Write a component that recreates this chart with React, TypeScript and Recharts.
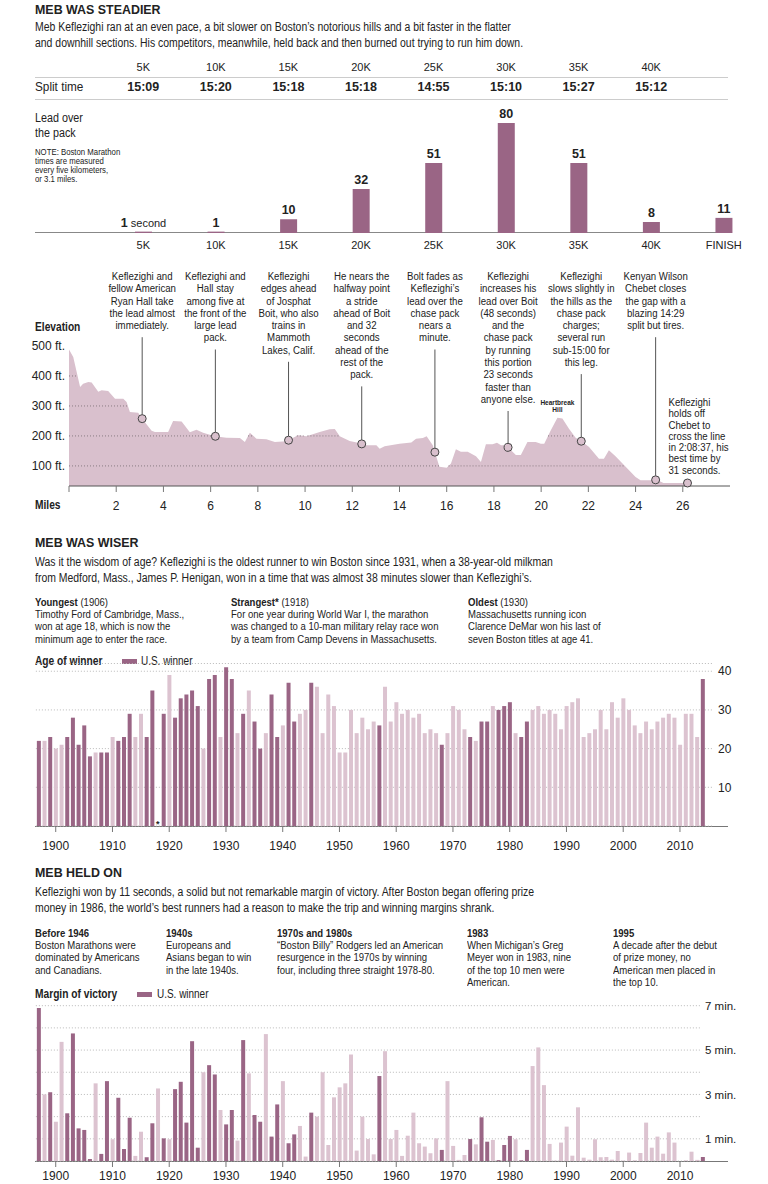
import React from 'react'
import {
  Area,
  Bar,
  BarChart,
  CartesianGrid,
  Cell,
  ComposedChart,
  LabelList,
  ReferenceDot,
  ReferenceLine,
  XAxis,
  YAxis,
} from 'recharts'

const FONT = '"Liberation Sans", Arial, sans-serif'
const INK = '#222'
const DARK = '#9a6585'
const LIGHT = '#dcc3d0'
const AREA = '#d9c0cd'
const GRID = '#b9b9b9'
// the original uses a condensed face; squeeze Liberation Sans to match
const SQUEEZE = 0.83
const SQUEEZE_BOLD = 0.85
const SQUEEZE_NOTE = 0.84
const SQUEEZE_INTRO = 0.87

// --- splits / lead over the pack ---
const splitLabels = ['5K', '10K', '15K', '20K', '25K', '30K', '35K', '40K', 'FINISH']
const splitTimes = ['15:09', '15:20', '15:18', '15:18', '14:55', '15:10', '15:27', '15:12', '']
const leadSeconds = [1, 1, 10, 32, 51, 80, 51, 8, 11]

// --- elevation profile (miles, feet) ---
const profileMiles = [
  0, 0.18, 0.47, 0.6, 0.82, 0.96, 1.24, 1.38, 1.66, 1.95, 2.3, 2.44, 2.58, 2.93, 3.15, 3.5, 3.64, 4.2, 4.41, 4.77,
  5.12, 5.4, 5.68, 6.18, 6.67, 7.24, 7.45, 7.66, 7.94, 8.36, 8.72, 9.21, 9.7, 10.06, 10.62, 11.04, 11.26, 11.47,
  11.89, 12.24, 12.6, 13.02, 13.16, 13.37, 14.0, 14.5, 14.7, 14.99, 15.15, 15.41, 15.69, 16.0, 16.18, 16.39, 16.6,
  16.89, 17.24, 17.45, 17.66, 17.94, 18.13, 18.3, 18.51, 18.93, 19.14, 19.42, 19.77, 19.99, 20.13, 20.41, 20.69,
  20.9, 21.18, 21.46, 21.75, 22.03, 22.45, 22.66, 22.87, 23.15, 23.58, 24.0, 24.21, 24.7, 24.9, 25.18, 25.97, 26.2,
]
const profileFeet = [
  488, 463, 363, 374, 380, 378, 347, 352, 350, 324, 324, 313, 280, 277, 252, 217, 213, 213, 250, 248,
  212, 221, 211, 199, 194, 193, 180, 211, 191, 189, 180, 182, 202, 199, 213, 222, 223, 199,
  183, 177, 169, 169, 157, 166, 174, 178, 191, 193, 199, 169, 97, 94, 108, 156, 147,
  147, 132, 113, 172, 172, 177, 169, 169, 136, 136, 180, 180, 174, 174, 219, 261,
  258, 224, 194, 180, 163, 124, 124, 152, 132, 97, 63, 52, 52, 54, 43, 43, 43,
]
const splitMiles = [3.1, 6.2, 9.3, 12.4, 15.5, 18.6, 21.7, 24.85, 26.2]
const elevationTicks = [100, 200, 300, 400, 500]
const mileTicks = [0, 2, 4, 6, 8, 10, 12, 14, 16, 18, 20, 22, 24, 26]

const splitNotes = [
  ['Keflezighi and', 'fellow American', 'Ryan Hall take', 'the lead almost', 'immediately.'],
  ['Keflezighi and', 'Hall stay', 'among five at', 'the front of the', 'large lead', 'pack.'],
  ['Keflezighi', 'edges ahead', 'of Josphat', 'Boit, who also', 'trains in', 'Mammoth', 'Lakes, Calif.'],
  ['He nears the', 'halfway point', 'a stride', 'ahead of Boit', 'and 32', 'seconds', 'ahead of the', 'rest of the', 'pack.'],
  ['Bolt fades as', 'Keflezighi\u2019s', 'lead over the', 'chase pack', 'nears a', 'minute.'],
  ['Keflezighi', 'increases his', 'lead over Boit', '(48 seconds)', 'and the', 'chase pack', 'by running', 'this portion', '23 seconds', 'faster than', 'anyone else.'],
  ['Keflezighi', 'slows slightly in', 'the hills as the', 'chase pack', 'charges;', 'several run', 'sub-15:00 for', 'this leg.'],
  ['Kenyan Wilson', 'Chebet closes', 'the gap with a', 'blazing 14:29', 'split but tires.'],
  ['Keflezighi', 'holds off', 'Chebet to', 'cross the line', 'in 2:08:37, his', 'best time by', '31 seconds.'],
]

// --- winners by year, 1897-2014 ---
const firstYear = 1897
const ages = [
  22, 22, 23,
  20, 21, 23, 28, 21, 26, 18, 19, 19, 19,
  23, 22, 23, 29, 23, 29, 23, 35, null, 29,
  39, 28, 33, 34, 35, 31, 20, 38, 39, 23,
  41, 38, 24, 29, 35, 27, 20, 24, 34, 23,
  26, 37, 27, 29, 30, 37, 36, 24, 34, 31,
  19, 19, 30, 24, 28, 25, 27, 26, 36, 27,
  32, 29, 30, 28, 29, 24, 25, 24, 21, 24,
  31, 30, 25, 23, 22, 27, 27, 31, 30, 31,
  32, 24, 23, 27, 30, 31, 29, 30, 29, 25,
  31, 32, 33, 23, 24, 25, 30, 25, 32, 28,
  33, 30, 26, 24, 27, 25, 27, 28, 29, 28,
  21, 29, 29, 23, 38,
]
// margin of victory, minutes
const margins = [
  6.9, 3.0, 3.1,
  1.77, 5.37, 2.15, 5.75, 1.47, 1.4, 0.09, 3.5, 0.32, 3.6,
  0.98, 2.85, 0.54, 1.95, 0.23, 1.32, 0.17, 1.7, 3.27, 1.02,
  0.98, 3.24, 3.57, 1.73, 5.4, 0.6, 4.0, 4.32, 3.9, 2.3,
  1.65, 2.3, 0.92, 5.45, 3.95, 2.07, 1.77, 5.72, 1.1, 2.55,
  3.6, 0.8, 1.2, 1.58, 0.2, 2.18, 2.0, 4.0, 0.72, 2.87,
  3.32, 3.5, 4.8, 0.47, 2.0, 0.99, 0.3, 3.83, 4.95, 0.99,
  1.4, 0.23, 1.14, 2.18, 0.8, 0.65, 0.35, 1.02, 0.5, 3.6,
  0.68, 0.05, 0.27, 0.99, 0.75, 1.97, 0.87, 0.95, 0.04, 0.72,
  1.13, 0.98, 0.03, 0.5, 4.28, 5.12, 3.42, 0.77, 0.02, 0.83,
  1.55, 0.24, 2.42, 0.15, 0.06, 0.98, 0.17, 0.18, 0.06, 0.45,
  0.02, 0.38, 0.03, 0.36, 1.73, 0.6, 1.1, 0.33, 1.29, 0.83,
  0, 0.03, 0.42, 0.05, 0.18,
]
const usWinnerYears = [
  1897, 1899, 1902, 1903, 1904, 1905, 1906, 1908, 1909, 1911, 1912, 1913, 1916, 1917, 1919, 1921, 1922, 1923,
  1924, 1925, 1927, 1928, 1930, 1931, 1933, 1935, 1936, 1938, 1939, 1941, 1942, 1945, 1957, 1968, 1973, 1975,
  1976, 1978, 1979, 1980, 1982, 1983, 2014,
]
const decadeTicks = [1900, 1910, 1920, 1930, 1940, 1950, 1960, 1970, 1980, 1990, 2000, 2010]
const ageTicks = [10, 20, 30, 40]
const minuteTicks = [1, 2, 3, 4, 5, 6, 7]
const strangestYear = 1918

// --- derived tables ---
const leadData = splitLabels.map((name, i) => ({ name, split: splitTimes[i], lead: leadSeconds[i] }))
const profile = profileMiles.map((mile, i) => ({ mile, ft: profileFeet[i] }))
const winners = ages.map((age, i) => ({
  year: firstYear + i,
  age,
  margin: margins[i],
  us: usWinnerYears.includes(firstYear + i),
}))

function feetAt(mile: number) {
  for (let i = 1; i < profile.length; i++) {
    const a = profile[i - 1]
    const b = profile[i]
    if (mile <= b.mile) return a.ft + ((b.ft - a.ft) * (mile - a.mile)) / (b.mile - a.mile)
  }
  return profile[profile.length - 1].ft
}

// stretches of the course that sit above a gridline level
function runsAbove(level: number) {
  const runs: [number, number][] = []
  let start: number | null = null
  const cross = (a: any, b: any) => a.mile + ((level - a.ft) * (b.mile - a.mile)) / (b.ft - a.ft)
  profile.forEach((p, i) => {
    if (p.ft >= level && start === null) start = i === 0 ? p.mile : cross(profile[i - 1], p)
    if (p.ft < level && start !== null) {
      runs.push([start, cross(profile[i - 1], p)])
      start = null
    }
  })
  if (start !== null) runs.push([start, profile[profile.length - 1].mile])
  return runs
}

const hillPeak = profile.reduce((best, p) => (p.mile > 18 && p.ft > best.ft ? p : best), profile[profile.length - 1])

// --- small layout helpers ---
function Txt({ x, y, size = 11.5, lh = 12.3, bold = false, k, children }: any) {
  return (
    <div
      style={{
        position: 'absolute',
        left: x,
        top: y - lh / 2,
        fontSize: size,
        lineHeight: `${lh}px`,
        fontWeight: bold ? 'bold' : 'normal',
        whiteSpace: 'nowrap',
        transform: `scaleX(${k ?? (bold ? SQUEEZE_BOLD : SQUEEZE)})`,
        transformOrigin: 'left top',
      }}
    >
      {children}
    </div>
  )
}

function Lines({ rows }: { rows: string[] }) {
  return (
    <>
      {rows.map((r, i) => (
        <React.Fragment key={i}>
          {i > 0 && <br />}
          {r}
        </React.Fragment>
      ))}
    </>
  )
}

function Rule({ x1, x2, y, color = '#ccc' }: any) {
  return <div style={{ position: 'absolute', left: x1, top: y, width: x2 - x1, height: 1, background: color }} />
}

function Swatch({ x, y }: any) {
  return <div style={{ position: 'absolute', left: x, top: y, width: 15, height: 5, background: DARK }} />
}

function SplitTick(props: any) {
  const { x, payload } = props
  const row = leadData.find((d) => d.name === payload.value)
  if (!row || !row.split) return <g />
  return (
    <g fontFamily={FONT} fill={INK} textAnchor="middle">
      <text x={x} y={16} fontSize={11}>{row.name}</text>
      <text x={x} y={36} fontSize={12.5} fontWeight="bold">{row.split}</text>
    </g>
  )
}

function LeadLabel(props: any) {
  const { x, y, width, value, index } = props
  return (
    <text x={x + width / 2} y={y - 5} textAnchor="middle" fontFamily={FONT} fontSize={12.5} fill={INK}>
      <tspan fontWeight="bold">{value}</tspan>
      {index === 0 && <tspan fontSize={11}> second</tspan>}
    </text>
  )
}

const NOTE_TOP = 16
const NOTE_LH = 12.3

function splitMarker(rows: string[], last: boolean) {
  return (p: any) => {
    const { cx, cy } = p
    if (last) {
      return (
        <g>
          <circle cx={cx} cy={cy} r={4} fill={AREA} stroke="#444" strokeWidth={1} />
          <text transform={`translate(${cx - 19} ${cy - 77}) scale(${SQUEEZE_NOTE} 1)`} fontFamily={FONT} fontSize={11.5} fill={INK}>
            {rows.map((r, i) => (
              <tspan key={i} x={0} dy={i === 0 ? 0 : 11.3}>{r}</tspan>
            ))}
          </text>
        </g>
      )
    }
    const leaderTop = NOTE_TOP + (rows.length - 1) * NOTE_LH + 12
    return (
      <g>
        <line x1={cx} x2={cx} y1={leaderTop} y2={cy - 4} stroke="#555" strokeWidth={1} />
        <circle cx={cx} cy={cy} r={4} fill={AREA} stroke="#444" strokeWidth={1} />
        <text
          transform={`translate(${cx} ${NOTE_TOP + 4}) scale(${SQUEEZE_NOTE} 1)`}
          textAnchor="middle"
          fontFamily={FONT}
          fontSize={11.5}
          fill={INK}
        >
          {rows.map((r, i) => (
            <tspan key={i} x={0} dy={i === 0 ? 0 : NOTE_LH}>{r}</tspan>
          ))}
        </text>
      </g>
    )
  }
}

const axisTick = { fontSize: 11, fill: INK, fontFamily: FONT }

export default function App() {
  return (
    <div style={{ position: 'relative', width: 768, height: 1184, fontFamily: FONT, color: INK, overflow: 'hidden' }}>
      <style>{'body{margin:0}'}</style>

      {/* MEB WAS STEADIER */}
      <Txt x={35} y={10} size={13.5} lh={16} bold k={0.92}>MEB WAS STEADIER</Txt>
      <Txt x={35} y={27} size={12} lh={16} k={SQUEEZE_INTRO}>
        <Lines
          rows={[
            'Meb Keflezighi ran at an even pace, a bit slower on Boston\u2019s notorious hills and a bit faster in the flatter',
            'and downhill sections. His competitors, meanwhile, held back and then burned out trying to run him down.',
          ]}
        />
      </Txt>
      <Rule x1={35} x2={728} y={77} />
      <Rule x1={35} x2={728} y={99} />
      <Txt x={35} y={87} size={12} lh={16} k={0.98}>Split time</Txt>
      <Txt x={35} y={118} size={12.5} lh={15} k={0.86}>
        <Lines rows={['Lead over', 'the pack']} />
      </Txt>
      <Txt x={35} y={152} size={8.8} lh={9} k={0.885}>
        <Lines rows={['NOTE: Boston Marathon', 'times are measured', 'every five kilometers,', 'or 3.1 miles.']} />
      </Txt>
      <Rule x1={35} x2={728} y={232} color="#888" />
      <div style={{ position: 'absolute', left: 0, top: 55 }}>
        <BarChart width={768} height={200} data={leadData} margin={{ top: 0, right: 8, bottom: 0, left: 107 }} barSize={17}>
          <XAxis xAxisId="top" orientation="top" dataKey="name" height={68} axisLine={false} tickLine={false} interval={0} tick={<SplitTick />} />
          <XAxis dataKey="name" height={22} axisLine={false} tickLine={false} interval={0} tick={axisTick} />
          <YAxis hide domain={[0, 80]} />
          <Bar dataKey="lead" fill={DARK} isAnimationActive={false}>
            <LabelList dataKey="lead" content={LeadLabel} />
          </Bar>
        </BarChart>
      </div>

      {/* elevation */}
      <Txt x={35} y={327} size={12} lh={16} bold>Elevation</Txt>
      <Txt x={35} y={505} size={12} lh={16} bold>Miles</Txt>
      <div style={{ position: 'absolute', left: 0, top: 260 }}>
        <ComposedChart width={768} height={260} data={profile} margin={{ top: 86, right: 38, bottom: 0, left: 0 }}>
          <XAxis
            type="number"
            dataKey="mile"
            domain={[0, 28]}
            ticks={mileTicks}
            interval={0}
            tickFormatter={(v) => (v === 0 ? '' : String(v))}
            height={34}
            tickSize={6}
            tickMargin={9}
            axisLine={{ stroke: '#555' }}
            tickLine={{ stroke: '#777' }}
            tick={{ ...axisTick, fontSize: 12 }}
          />
          <YAxis
            type="number"
            domain={[33, 500]}
            ticks={elevationTicks}
            interval={0}
            width={69}
            tickSize={2}
            tickMargin={2}
            axisLine={false}
            tickLine={false}
            tickFormatter={(v) => `${v} ft.`}
            tick={{ ...axisTick, fontSize: 12 }}
          />
          <Area type="linear" dataKey="ft" fill={AREA} fillOpacity={1} stroke="none" isAnimationActive={false} />
          {elevationTicks.flatMap((level) =>
            runsAbove(level).map(([a, b], i) => (
              <ReferenceLine
                key={`${level}-${i}`}
                segment={[{ x: a, y: level }, { x: b, y: level }]}
                stroke="#8a7b83"
                strokeDasharray="1 2"
              />
            )),
          )}
          <ReferenceDot
            x={hillPeak.mile}
            y={hillPeak.ft}
            ifOverflow="visible"
            shape={(p: any) => (
              <text
                transform={`translate(${p.cx} ${p.cy - 13}) scale(0.87 1)`}
                textAnchor="middle"
                fontFamily={FONT}
                fontSize={7.5}
                fontWeight="bold"
                fill={INK}
              >
                <tspan x={0}>Heartbreak</tspan>
                <tspan x={0} dy={7.5}>Hill</tspan>
              </text>
            )}
          />
          {splitMiles.map((m, i) => (
            <ReferenceDot
              key={m}
              x={m}
              y={feetAt(m)}
              ifOverflow="visible"
              shape={splitMarker(splitNotes[i], i === splitMiles.length - 1)}
            />
          ))}
        </ComposedChart>
      </div>

      {/* MEB WAS WISER */}
      <Txt x={35} y={543} size={13.5} lh={16} bold k={0.92}>MEB WAS WISER</Txt>
      <Txt x={35} y={562} size={12} lh={16} k={SQUEEZE_INTRO}>
        <Lines
          rows={[
            'Was it the wisdom of age? Keflezighi is the oldest runner to win Boston since 1931, when a 38-year-old milkman',
            'from Medford, Mass., James P. Henigan, won in a time that was almost 38 minutes slower than Keflezighi\u2019s.',
          ]}
        />
      </Txt>
      <Txt x={35} y={602}>
        <b>Youngest</b> (1906)<br />Timothy Ford of Cambridge, Mass.,<br />won at age 18, which is now the<br />minimum age to enter the race.
      </Txt>
      <Txt x={231} y={602}>
        <b>Strangest*</b> (1918)<br />For one year during World War I, the marathon<br />was changed to a 10-man military relay race won<br />by a team from Camp Devens in Massachusetts.
      </Txt>
      <Txt x={468} y={602}>
        <b>Oldest</b> (1930)<br />Massachusetts running icon<br />Clarence DeMar won his last of<br />seven Boston titles at age 41.
      </Txt>
      <Txt x={35} y={661} size={12} lh={16} bold>Age of winner</Txt>
      <Swatch x={122} y={659} />
      <Txt x={141} y={661} size={12} lh={16}>U.S. winner</Txt>
      <Rule x1={35} x2={728} y={826} color="#777" />
      <div style={{ position: 'absolute', left: 0, top: 655 }}>
        <BarChart width={768} height={200} data={winners} margin={{ top: 8.5, right: 15, bottom: 0, left: 35.86 }}>
          <CartesianGrid vertical={false} stroke={GRID} strokeDasharray="1 2" />
          <XAxis
            type="number"
            dataKey="year"
            domain={[1896.5, 2014.5]}
            padding={{ left: 0, right: 7.5 }}
            ticks={decadeTicks}
            interval={0}
            height={29}
            tickSize={6}
            tickMargin={9}
            axisLine={false}
            tickLine={{ stroke: '#777' }}
            tick={{ ...axisTick, fontSize: 12 }}
          />
          <YAxis
            orientation="right"
            domain={[0, 42]}
            ticks={ageTicks}
            interval={0}
            width={40}
            tickSize={3}
            tickMargin={2}
            axisLine={false}
            tickLine={false}
            tick={{ ...axisTick, fontSize: 12 }}
          />
          <Bar dataKey="age" barSize={4} isAnimationActive={false}>
            {winners.map((w) => (
              <Cell key={w.year} fill={w.us ? DARK : LIGHT} />
            ))}
          </Bar>
          <ReferenceDot
            x={strangestYear}
            y={0}
            ifOverflow="visible"
            shape={(p: any) => (
              <text x={p.cx} y={p.cy + 1} textAnchor="middle" fontFamily={FONT} fontSize={9} fontWeight="bold" fill={INK}>*</text>
            )}
          />
        </BarChart>
      </div>

      {/* MEB HELD ON */}
      <Txt x={35} y={873} size={13.5} lh={16} bold k={0.92}>MEB HELD ON</Txt>
      <Txt x={35} y={892} size={12} lh={16} k={SQUEEZE_INTRO}>
        <Lines
          rows={[
            'Keflezighi won by 11 seconds, a solid but not remarkable margin of victory. After Boston began offering prize',
            'money in 1986, the world\u2019s best runners had a reason to make the trip and winning margins shrank.',
          ]}
        />
      </Txt>
      <Txt x={35} y={933}>
        <b>Before 1946</b><br />Boston Marathons were<br />dominated by Americans<br />and Canadians.
      </Txt>
      <Txt x={166} y={933}>
        <b>1940s</b><br />Europeans and<br />Asians began to win<br />in the late 1940s.
      </Txt>
      <Txt x={277} y={933}>
        <b>1970s and 1980s</b><br />{'\u201cBoston Billy\u201d Rodgers led an American'}<br />resurgence in the 1970s by winning<br />four, including three straight 1978-80.
      </Txt>
      <Txt x={467} y={933}>
        <b>1983</b><br />{'When Michigan\u2019s Greg'}<br />Meyer won in 1983, nine<br />of the top 10 men were<br />American.
      </Txt>
      <Txt x={613} y={933}>
        <b>1995</b><br />A decade after the debut<br />of prize money, no<br />American men placed in<br />the top 10.
      </Txt>
      <Txt x={35} y={994} size={12} lh={16} bold>Margin of victory</Txt>
      <Swatch x={137} y={992} />
      <Txt x={157} y={994} size={12} lh={16}>U.S. winner</Txt>
      <Rule x1={35} x2={728} y={1161} color="#777" />
      <div style={{ position: 'absolute', left: 0, top: 998 }}>
        <BarChart width={768} height={186} data={winners} margin={{ top: 7.7, right: 18, bottom: 0, left: 35.86 }}>
          <CartesianGrid vertical={false} stroke={GRID} strokeDasharray="1 2" />
          <XAxis
            type="number"
            dataKey="year"
            domain={[1896.5, 2014.5]}
            padding={{ left: 0, right: -5.54 }}
            ticks={decadeTicks}
            interval={0}
            height={23}
            tickSize={6}
            tickMargin={4}
            axisLine={false}
            tickLine={{ stroke: '#777' }}
            tick={{ ...axisTick, fontSize: 12 }}
          />
          <YAxis
            orientation="right"
            domain={[0, 7]}
            ticks={minuteTicks}
            interval={0}
            width={50}
            tickSize={3}
            tickMargin={2}
            axisLine={false}
            tickLine={false}
            tickFormatter={(v) => (v % 2 === 1 ? `${v} min.` : '')}
            tick={{ ...axisTick, fontSize: 11.5 }}
          />
          <Bar dataKey="margin" barSize={4} isAnimationActive={false}>
            {winners.map((w) => (
              <Cell key={w.year} fill={w.us ? DARK : LIGHT} />
            ))}
          </Bar>
        </BarChart>
      </div>
    </div>
  )
}
